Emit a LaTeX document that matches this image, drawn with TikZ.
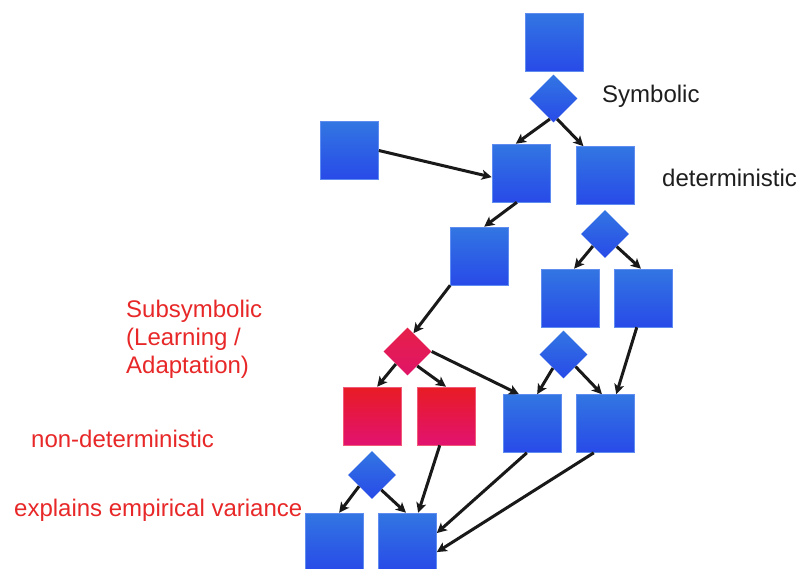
\documentclass[tikz,border=0pt]{standalone}
\usepackage{fontspec}
\setmainfont{Liberation Sans}
\usetikzlibrary{shapes.geometric,arrows.meta}
\definecolor{bTop}{RGB}{50,118,226}
\definecolor{bBot}{RGB}{40,74,232}
\definecolor{bEdge}{RGB}{95,140,240}
\definecolor{rTop}{RGB}{232,28,36}
\definecolor{rBot}{RGB}{226,18,112}
\definecolor{rEdge}{RGB}{240,90,120}
\definecolor{rdTop}{RGB}{230,32,72}
\definecolor{rdBot}{RGB}{224,20,104}
\definecolor{redtext}{RGB}{232,40,40}
\definecolor{darktext}{RGB}{30,30,30}
\begin{document}
\begin{tikzpicture}[x=1pt,y=-1pt,
  sq/.style={rectangle,minimum width=58pt,minimum height=58pt,inner sep=0pt,
    draw=bEdge,line width=0.6pt,top color=bTop,bottom color=bBot},
  rsq/.style={rectangle,minimum width=58pt,minimum height=58pt,inner sep=0pt,
    draw=rEdge,line width=0.6pt,top color=rTop,bottom color=rBot},
  dm/.style={diamond,aspect=1,minimum width=48pt,minimum height=48pt,inner sep=0pt,
    top color=bTop,bottom color=bBot},
  rdm/.style={diamond,aspect=1,minimum width=48pt,minimum height=48pt,inner sep=0pt,
    top color=rdTop,bottom color=rdBot},
  arr/.style={-{Stealth[length=10pt,width=10pt,inset=2.5pt]},line width=3pt,black!90},
  lab/.style={inner sep=0pt,font=\fontsize{24}{28}\selectfont}
]
\clip (0,0) rectangle (799,568);
\fill[white] (0,0) rectangle (799,568);

% blocks
\node[sq] (t) at (554,42) {};
\node[dm] (d1) at (553.5,98.5) {};
\node[sq] (l) at (349.5,150.5) {};
\node[sq] (a) at (521,173) {};
\node[sq] (b) at (605.5,175.5) {};
\node[sq] (c) at (479.5,256) {};
\node[dm] (d2) at (605,234) {};
\node[sq] (e) at (570,298) {};
\node[sq] (f) at (643,298) {};
\node[rdm] (rd) at (407.5,351.5) {};
\node[dm] (d3) at (563.5,354.5) {};
\node[rsq] (r1) at (372,416) {};
\node[rsq] (r2) at (446,416) {};
\node[sq] (g) at (532,423.5) {};
\node[sq] (h) at (605,423.5) {};
\node[dm] (d4) at (372,475) {};
\node[sq] (p) at (334.5,542) {};
\node[sq] (q) at (407.5,542) {};

% connectors
\draw[arr] (d1.260) -- (a.100);
\draw[arr] (d1.280) -- (b.127);
\draw[arr] (l.east) -- (a.188);
\draw[arr] (a.262) -- (c.81);
\draw[arr] (c.south west) -- (rd.72);
\draw[arr] (d2.225) -- (e.82);
\draw[arr] (d2.313) -- (f.94);
\draw[arr] (rd.227) -- (r1.80);
\draw[arr] (rd.304) -- (r2.90);
\draw[arr] (rd.east) -- (g.114);
\draw[arr] (d3.232) -- (g.80);
\draw[arr] (d3.315) -- (h.96);
\draw[arr] (f.258) -- (h.69);
\draw[arr] (d4.221) -- (p.81);
\draw[arr] (d4.302) -- (q.93);
\draw[arr] (r2.258) -- (q.70);
\draw[arr] (g.260) -- (q.17);
\draw[arr] (h.249) -- (q.341);

% labels
\node[lab,text=darktext,anchor=base west] (sym) at (602,102) {Symbolic};
\node[lab,text=darktext,anchor=base west] (det) at (662,186) {deterministic};
\node[lab,text=redtext,anchor=north west,align=left] (sub) at (126,299.5) {Subsymbolic\\(Learning /\\Adaptation)};
\node[lab,text=redtext,anchor=base west] (nondet) at (31,447) {non-deterministic};
\node[lab,text=redtext,anchor=base west] (expl) at (14,516) {explains empirical variance};
\end{tikzpicture}
\end{document}
